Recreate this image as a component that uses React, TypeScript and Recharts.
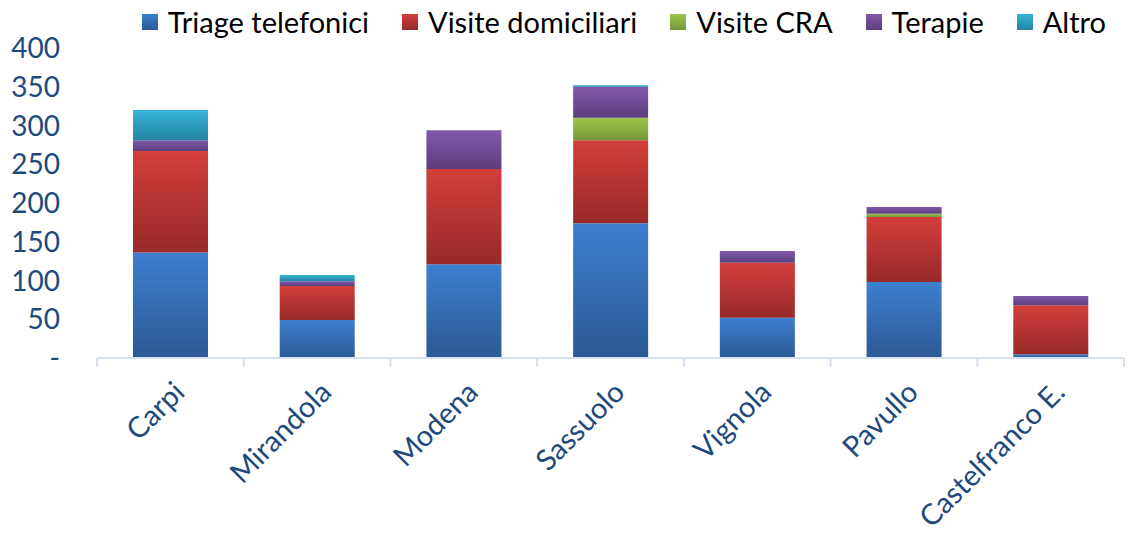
import { BarChart, Bar, XAxis, YAxis } from 'recharts'

const categories = ['Carpi', 'Mirandola', 'Modena', 'Sassuolo', 'Vignola', 'Pavullo', 'Castelfranco E.']
const triage = [136, 49, 121, 174, 52, 98, 5]
const domiciliari = [131, 44, 123, 107, 71, 84, 63]
const cra = [0, 0, 0, 29, 0, 4, 0]
const terapie = [14, 6, 50, 40, 15, 9, 12]
const altro = [39, 8, 0, 2, 0, 0, 0]
const yTicks = [0, 50, 100, 150, 200, 250, 300, 350, 400]

const SERIES = [
  { key: 'triage', name: 'Triage telefonici', top: '#3d7fcf', bottom: '#2b5994' },
  { key: 'domiciliari', name: 'Visite domiciliari', top: '#d23e3b', bottom: '#972a29' },
  { key: 'cra', name: 'Visite CRA', top: '#a0c64c', bottom: '#759638' },
  { key: 'terapie', name: 'Terapie', top: '#8059a9', bottom: '#5c3e7d' },
  { key: 'altro', name: 'Altro', top: '#37b4d8', bottom: '#2385a1' },
]

const data = categories.map((name, i) => ({
  name,
  triage: triage[i],
  domiciliari: domiciliari[i],
  cra: cra[i],
  terapie: terapie[i],
  altro: altro[i],
}))

const W = 1128
const H = 535
const TOP = 48
const PLOT_H = 310
const Y_AXIS_W = 97
const RIGHT = 4
const BAND = (W - Y_AXIS_W - RIGHT) / categories.length
const FONT = 'Lato, "Open Sans", sans-serif'
const AXIS_COLOR = '#d6e0f1'
const LABEL_COLOR = '#1f497d'

// category labels + tick marks on the band boundaries (like Excel)
function XTick(props: any) {
  const { x, y, payload, index } = props
  const left = x - BAND / 2
  return (
    <g>
      <line x1={left} y1={y - 8} x2={left} y2={y + 1} stroke={AXIS_COLOR} strokeWidth={2} />
      {index === categories.length - 1 && (
        <line x1={left + BAND} y1={y - 8} x2={left + BAND} y2={y + 1} stroke={AXIS_COLOR} strokeWidth={2} />
      )}
      <text
        x={0}
        y={0}
        transform={`translate(${x + 16},${y + 28}) rotate(-45)`}
        textAnchor="end"
        fill={LABEL_COLOR}
        fontSize={29}
        fontFamily={FONT}
      >
        {payload.value}
      </text>
    </g>
  )
}

function YTick(props: any) {
  const { y, payload } = props
  return (
    <text x={60} y={y} dy={10} textAnchor="end" fill={LABEL_COLOR} fontSize={28} fontFamily={FONT}>
      {payload.value === 0 ? '-' : payload.value}
    </text>
  )
}

function ChartLegend() {
  return (
    <div
      style={{
        position: 'absolute',
        top: 4,
        right: 22,
        display: 'flex',
        fontFamily: FONT,
        fontSize: 29,
        lineHeight: '36px',
        color: '#000',
        whiteSpace: 'nowrap',
      }}
    >
      {SERIES.map((s, i) => (
        <div key={s.key} style={{ display: 'flex', alignItems: 'center', marginLeft: i === 0 ? 0 : 33 }}>
          <span
            style={{
              width: 16,
              height: 16,
              marginRight: 10,
              background: `linear-gradient(${s.top}, ${s.bottom})`,
              display: 'inline-block',
            }}
          />
          <span>{s.name}</span>
        </div>
      ))}
    </div>
  )
}

export default function App() {
  return (
    <div style={{ position: 'absolute', left: 0, top: 0, width: W, height: H, background: '#fff' }}>
      <BarChart width={W} height={H} data={data} margin={{ top: TOP, right: RIGHT, bottom: 0, left: 0 }}>
        <defs>
          {SERIES.map((s) => (
            <linearGradient key={s.key} id={`grad-${s.key}`} x1="0" y1="0" x2="0" y2="1">
              <stop offset="0%" stopColor={s.top} />
              <stop offset="100%" stopColor={s.bottom} />
            </linearGradient>
          ))}
        </defs>
        <XAxis
          dataKey="name"
          interval={0}
          height={H - TOP - PLOT_H}
          axisLine={{ stroke: AXIS_COLOR, strokeWidth: 2 }}
          tickLine={false}
          tick={<XTick />}
        />
        <YAxis
          width={Y_AXIS_W}
          domain={[0, 400]}
          ticks={yTicks}
          axisLine={false}
          tickLine={false}
          tick={<YTick />}
        />
        {SERIES.map((s) => (
          <Bar
            key={s.key}
            dataKey={s.key}
            name={s.name}
            stackId="a"
            barSize={75}
            fill={`url(#grad-${s.key})`}
            isAnimationActive={false}
          />
        ))}
      </BarChart>
      <ChartLegend />
    </div>
  )
}
